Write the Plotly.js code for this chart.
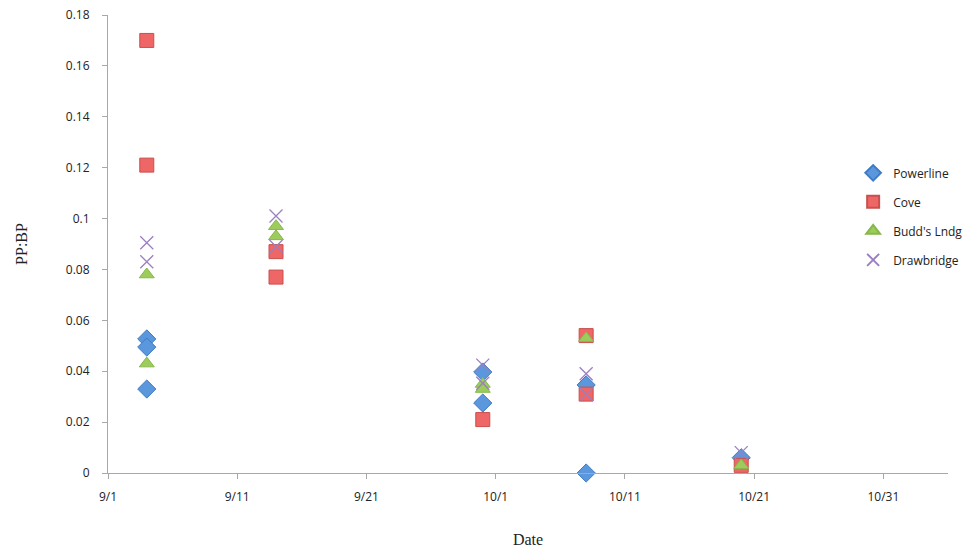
<!DOCTYPE html>
<html>
<head>
<meta charset="utf-8">
<script src="https://cdn.plot.ly/plotly-3.0.1.min.js"></script>
<style>html,body{margin:0;padding:0;background:#fff;overflow:hidden;}#chart{width:964px;height:548px;}</style>
</head>
<body>
<div id="chart"></div>
<script>
// Data
const powerlineDates = ['2013-09-04','2013-09-04','2013-09-04','2013-09-30','2013-09-30','2013-10-08','2013-10-08','2013-10-20'];
const powerlineVals  = [0.0527, 0.0495, 0.033, 0.0397, 0.0275, 0.0346, 0.0, 0.006];

const coveDates = ['2013-09-04','2013-09-04','2013-09-14','2013-09-14','2013-09-30','2013-10-08','2013-10-08','2013-10-20'];
const coveVals  = [0.170, 0.121, 0.087, 0.077, 0.021, 0.054, 0.031, 0.003];

const buddsDates = ['2013-09-04','2013-09-04','2013-09-14','2013-09-14','2013-09-30','2013-09-30','2013-10-08','2013-10-20'];
const buddsVals  = [0.078, 0.043, 0.097, 0.093, 0.035, 0.033, 0.053, 0.003];

const drawDates = ['2013-09-04','2013-09-04','2013-09-14','2013-09-14','2013-09-30','2013-09-30','2013-10-08','2013-10-08','2013-10-20'];
const drawVals  = [0.0905, 0.083, 0.101, 0.089, 0.0424, 0.0353, 0.039, 0.031, 0.008];

const seriesNames = ['Powerline', 'Cove', "Budd's Lndg", 'Drawbridge'];

const traces = [
  {x: powerlineDates, y: powerlineVals, name: seriesNames[0], type: 'scatter', mode: 'markers',
   legendgroup: 'a', cliponaxis: false,
   marker: {symbol: 'diamond', size: 14, color: '#5b97dc', line: {color: '#3f7cc4', width: 1}}},
  {x: coveDates, y: coveVals, name: seriesNames[1], type: 'scatter', mode: 'markers',
   legendgroup: 'b', cliponaxis: false,
   marker: {symbol: 'square', size: 14, color: '#ee6666', line: {color: '#c9504d', width: 1}}},
  {x: buddsDates, y: buddsVals, name: seriesNames[2], type: 'scatter', mode: 'markers',
   legendgroup: 'c', cliponaxis: false,
   marker: {symbol: 'triangle-up', size: 13, color: '#9dcc5c', line: {color: '#86b84a', width: 1}}},
  {x: drawDates, y: drawVals, name: seriesNames[3], type: 'scatter', mode: 'markers',
   legendgroup: 'd', cliponaxis: false,
   marker: {symbol: 'x-thin-open', size: 13, color: '#9b7fc2', line: {color: '#9b7fc2', width: 1.3}}}
];

const tickFont = {family: 'Open Sans, Liberation Sans, sans-serif', size: 12, color: '#222'};
const titleFont = {family: 'Liberation Serif, DejaVu Serif, serif', size: 16, color: '#222'};

const layout = {
  width: 964, height: 548,
  margin: {l: 108, r: 16, t: 15, b: 75, autoexpand: false},
  paper_bgcolor: '#ffffff', plot_bgcolor: '#ffffff',
  showlegend: true,
  legend: {xref: 'container', yref: 'container', x: 0.885, xanchor: 'left', y: 0.711, yanchor: 'top',
           traceorder: 'grouped', tracegroupgap: 10, itemsizing: 'constant',
           font: {family: 'Open Sans, Liberation Sans, sans-serif', size: 12, color: '#222'},
           bgcolor: 'rgba(0,0,0,0)', itemwidth: 30},
  xaxis: {
    type: 'date', range: ['2013-09-01', '2013-11-05'],
    tick0: '2013-09-01', dtick: 864000000, tickformat: '%-m/%-d',
    showgrid: false, zeroline: false, showline: true, linecolor: '#a8a8a8', linewidth: 1,
    ticks: 'outside', ticklen: 5, tickcolor: '#a8a8a8', ticklabelstandoff: 8,
    tickfont: tickFont,
    title: {text: 'Date', font: titleFont, standoff: 30}
  },
  yaxis: {
    range: [0, 0.18], dtick: 0.02, tick0: 0,
    showgrid: false, zeroline: false, showline: true, linecolor: '#a8a8a8', linewidth: 1,
    ticks: 'outside', ticklen: 5, tickcolor: '#a8a8a8', ticklabelstandoff: 10,
    tickfont: tickFont,
    title: {text: 'PP:BP', font: titleFont, standoff: 34}
  }
};

Plotly.newPlot('chart', traces, layout, {displayModeBar: false, staticPlot: true});
</script>
</body>
</html>
